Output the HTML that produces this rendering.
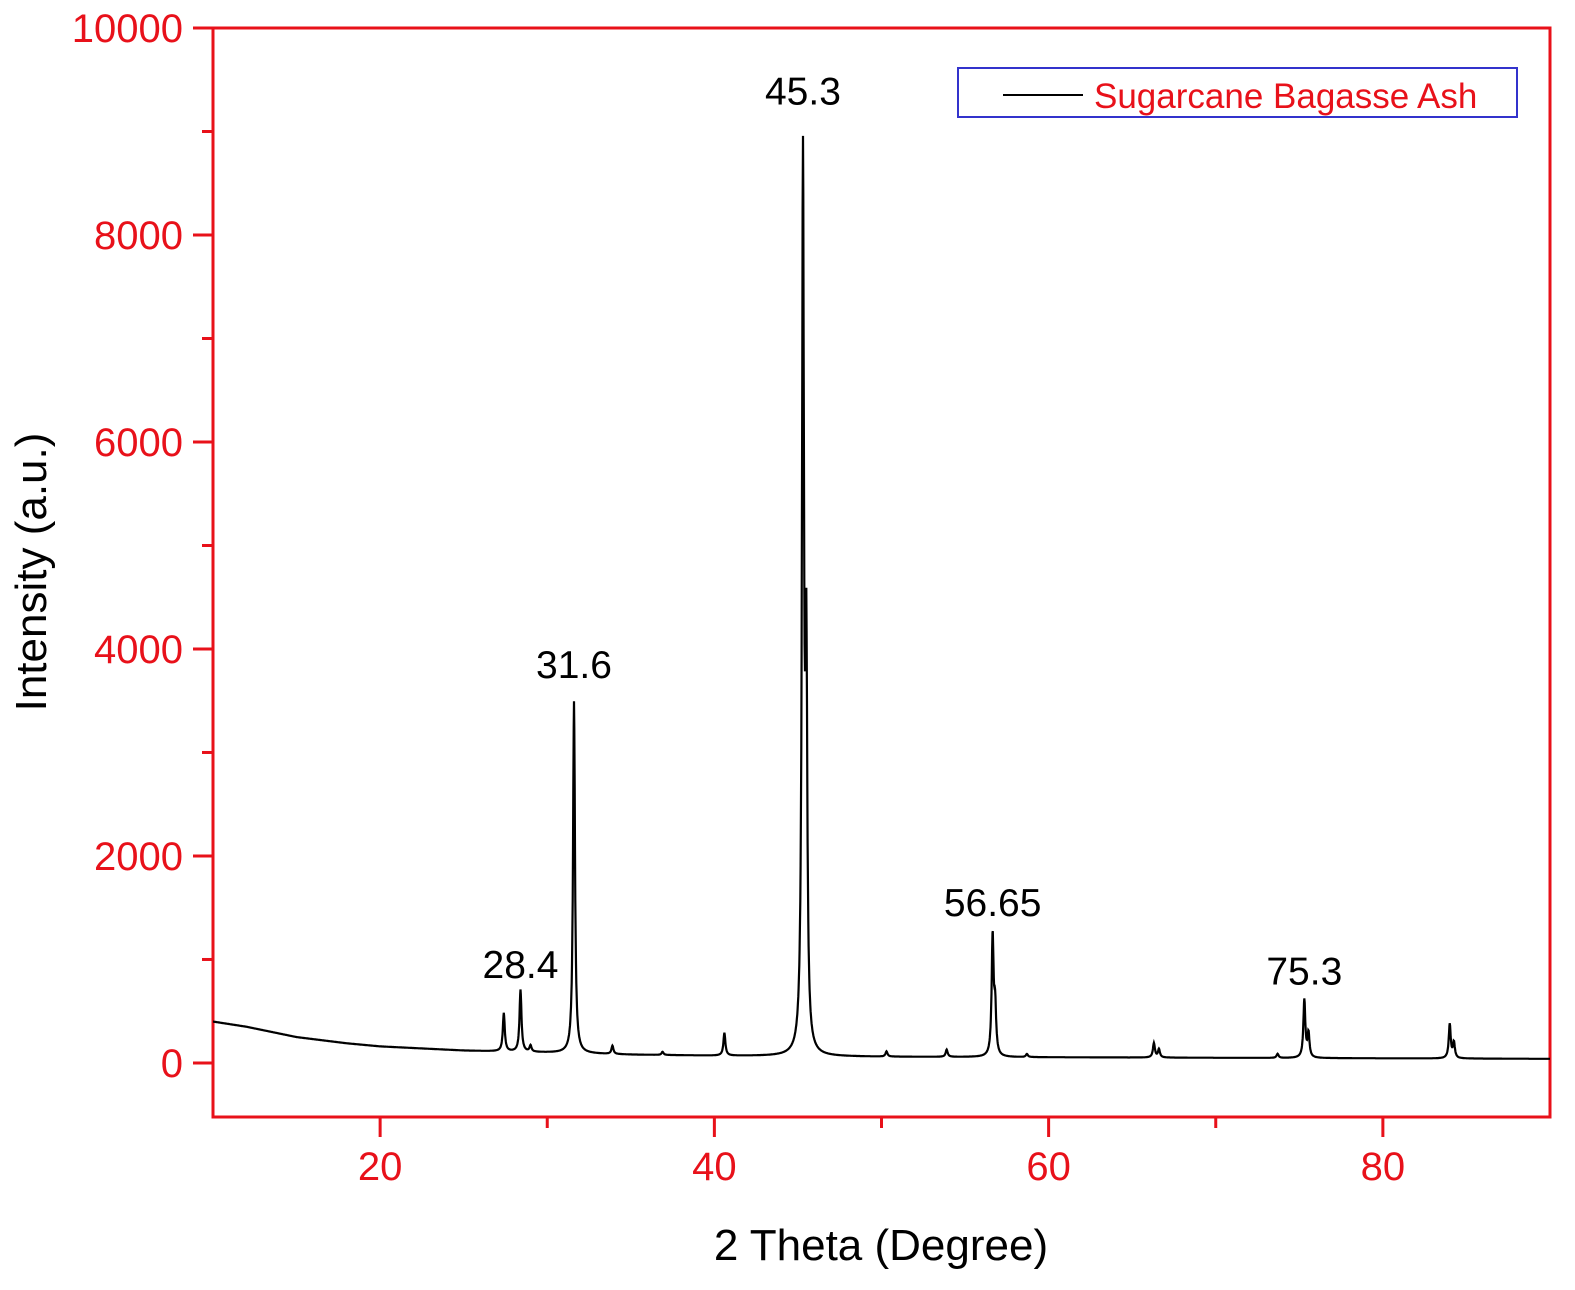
<!DOCTYPE html>
<html><head><meta charset="utf-8"><style>
html,body{margin:0;padding:0;background:#fff;overflow:hidden;width:1575px;height:1290px}
svg{display:block;font-family:"Liberation Sans",Arial,sans-serif}
</style></head><body>
<svg id="chart" width="1575" height="1290" viewBox="0 0 1575 1290" xmlns="http://www.w3.org/2000/svg">
<g id="axes"></g>
<g id="series"></g>
<g id="labels"></g>
<g>
<rect x="958" y="68" width="559" height="49" fill="#fff" stroke="#3333cc" stroke-width="2"/>
<line x1="1003" y1="95" x2="1083" y2="95" stroke="#000" stroke-width="2"/>
<text x="1094" y="108" font-size="35" fill="#e8111a">Sugarcane Bagasse Ash</text>
</g>
<text x="881" y="1260" font-size="44" text-anchor="middle" fill="#000">2 Theta (Degree)</text>
<text transform="translate(46,572) rotate(-90)" font-size="44" text-anchor="middle" fill="#000">Intensity (a.u.)</text>
</svg>
<script>
const xTicks=[20,40,60,80];
const xMinor=[30,50,70];
const yTicks=[0,2000,4000,6000,8000,10000];
const yMinor=[1000,3000,5000,7000,9000];
const bgX=[10,12,15,18,20,25,30,35,40,50,60,70,80,90];
const bgY=[400,350,250,190,160,120,100,80,70,60,55,50,45,40];
const peakPos=[27.4,28.4,29.0,31.6,33.9,36.9,40.6,45.3,45.5,50.3,53.9,56.65,56.8,58.7,66.3,66.6,73.7,75.3,75.55,84.0,84.25];
const peakHeight=[370,600,60,3400,80,30,220,8500,3600,50,70,1150,450,30,140,80,40,560,230,330,150];
const annotX=[28.4,31.6,45.3,56.65,75.3];
const annotY=[820,3720,9260,1420,760];
const annotText=["28.4","31.6","45.3","56.65","75.3"];
const L=213,R=1550,T=28,B=1117;
const xmin=10,xmax=90,ymin=-522,ymax=10000;
const sx=v=>L+(v-xmin)/(xmax-xmin)*(R-L);
const sy=v=>B-(v-ymin)/(ymax-ymin)*(B-T);
const NS="http://www.w3.org/2000/svg";
function mk(tag,attrs,parent){const e=document.createElementNS(NS,tag);for(const k in attrs)e.setAttribute(k,attrs[k]);parent.appendChild(e);return e;}
const ax=document.getElementById('axes');
let f=mk('rect',{x:L,y:T,width:R-L,height:B-T,fill:'none',stroke:'#e8111a','stroke-width':3},ax);


xTicks.forEach(v=>{
 let t=mk('line',{x1:sx(v),x2:sx(v),y1:B,y2:B+20,stroke:'#e8111a','stroke-width':3},ax);
 
 
 let l=mk('text',{x:sx(v),y:B+63,'font-size':40,'text-anchor':'middle',fill:'#e8111a'},ax);l.textContent=v;
 
 
});
xMinor.forEach(v=>{
 let t=mk('line',{x1:sx(v),x2:sx(v),y1:B,y2:B+11,stroke:'#e8111a','stroke-width':3},ax);
 
 
});
yTicks.forEach(v=>{
 let t=mk('line',{x1:L-20,x2:L,y1:sy(v),y2:sy(v),stroke:'#e8111a','stroke-width':3},ax);
 
 
 let l=mk('text',{x:L-30,y:sy(v)+14,'font-size':40,'text-anchor':'end',fill:'#e8111a'},ax);l.textContent=v;
 
 
});
yMinor.forEach(v=>{
 let t=mk('line',{x1:L-11,x2:L,y1:sy(v),y2:sy(v),stroke:'#e8111a','stroke-width':3},ax);
 
 
});
function bg(x){for(let i=0;i<bgX.length-1;i++){if(x<=bgX[i+1]){const r=(x-bgX[i])/(bgX[i+1]-bgX[i]);return bgY[i]+r*(bgY[i+1]-bgY[i]);}}return bgY[bgY.length-1];}
let d='';
for(let x=xmin;x<=xmax+1e-9;x+=0.02){
 let y=bg(x);
 peakPos.forEach((p,i)=>{const w=0.07;y+=peakHeight[i]/(1+((x-p)/w)**2);});
 d+=(d?'L':'M')+sx(x).toFixed(1)+' '+sy(y).toFixed(1);
}
const s=mk('path',{d:d,fill:'none',stroke:'#000','stroke-width':2.2},document.getElementById('series'));


const lb=document.getElementById('labels');
annotX.forEach((v,i)=>{
 let t=mk('text',{x:sx(v),y:sy(annotY[i]),'font-size':39,'text-anchor':'middle',fill:'#000'},lb);
 t.textContent=annotText[i];
 
 
});
</script>
</body></html>
